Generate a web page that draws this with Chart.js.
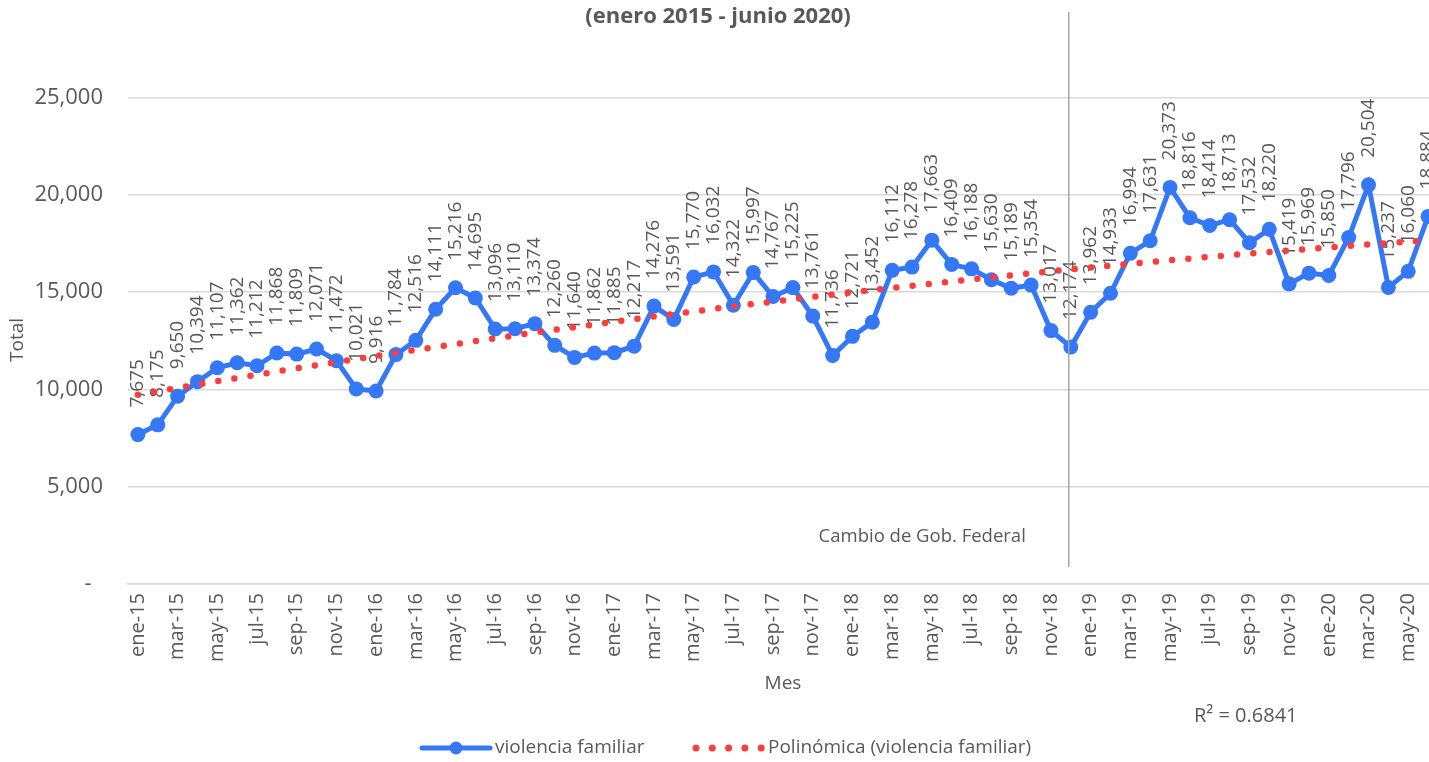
<!DOCTYPE html>
<html>
<head>
<meta charset="utf-8">
<script src="https://cdn.jsdelivr.net/npm/chart.js@4.4.1/dist/chart.umd.min.js"></script>
<style>
  html, body { margin: 0; padding: 0; background: #fff; overflow: hidden; }
  .conten_grafica { width: 1438px; height: 762px; position: relative; }
</style>
</head>
<body>
<div class="conten_grafica">
  <canvas id="line-chart" width="1438" height="762"></canvas>
</div>
<script>
// meses de enero 2015 a junio 2020
const meses = [
  'ene-15','feb-15','mar-15','abr-15','may-15','jun-15','jul-15','ago-15','sep-15','oct-15','nov-15','dic-15',
  'ene-16','feb-16','mar-16','abr-16','may-16','jun-16','jul-16','ago-16','sep-16','oct-16','nov-16','dic-16',
  'ene-17','feb-17','mar-17','abr-17','may-17','jun-17','jul-17','ago-17','sep-17','oct-17','nov-17','dic-17',
  'ene-18','feb-18','mar-18','abr-18','may-18','jun-18','jul-18','ago-18','sep-18','oct-18','nov-18','dic-18',
  'ene-19','feb-19','mar-19','abr-19','may-19','jun-19','jul-19','ago-19','sep-19','oct-19','nov-19','dic-19',
  'ene-20','feb-20','mar-20','abr-20','may-20','jun-20'
]

const violencia = [
  7675, 8175, 9650, 10394, 11107, 11362, 11212, 11868, 11809, 12071, 11472, 10021,
  9916, 11784, 12516, 14111, 15216, 14695, 13096, 13110, 13374, 12260, 11640, 11862,
  11885, 12217, 14276, 13591, 15770, 16032, 14322, 15997, 14767, 15225, 13761, 11736,
  12721, 13452, 16112, 16278, 17663, 16409, 16188, 15630, 15189, 15354, 13017, 12174,
  13962, 14933, 16994, 17631, 20373, 18816, 18414, 18713, 17532, 18220, 15419, 15969,
  15850, 17796, 20504, 15237, 16060, 18884
]

const ticksY = [0, 5000, 10000, 15000, 20000, 25000]
const mesCambio = 'dic-18'
const r2 = '0.6841'

const gris = '#595959'
const azul = '#3478f6'
const rojo = '#ff3b3b'
const fuente = '"Open Sans", "Noto Sans", sans-serif'

// tendencia polinómica de grado 2 (mínimos cuadrados, x = 1..n)
function tendencia(y){
  let s = [0,0,0,0,0], t = [0,0,0]
  y.forEach((v,i) => {
    let x = i + 1
    for (let k = 0; k < 5; k++) s[k] += Math.pow(x,k)
    for (let k = 0; k < 3; k++) t[k] += v * Math.pow(x,k)
  })
  let m = [[s[0],s[1],s[2],t[0]],[s[1],s[2],s[3],t[1]],[s[2],s[3],s[4],t[2]]]
  for (let c = 0; c < 3; c++){
    for (let r = c + 1; r < 3; r++){
      let f = m[r][c] / m[c][c]
      for (let k = c; k < 4; k++) m[r][k] -= f * m[c][k]
    }
  }
  let b = [0,0,0]
  for (let r = 2; r >= 0; r--){
    let acc = m[r][3]
    for (let k = r + 1; k < 3; k++) acc -= m[r][k] * b[k]
    b[r] = acc / m[r][r]
  }
  return y.map((v,i) => b[0] + b[1]*(i+1) + b[2]*(i+1)*(i+1))
}

const fmt = v => v.toLocaleString('en-US')

// etiquetas de valor verticales encima de cada punto
const etiquetas = {
  id: 'etiquetas',
  beforeDatasetsDraw(chart){
    const ctx = chart.ctx
    const meta = chart.getDatasetMeta(1)
    ctx.save()
    ctx.fillStyle = gris
    ctx.font = '19px ' + fuente
    ctx.textAlign = 'left'
    ctx.textBaseline = 'middle'
    meta.data.forEach((pt,i) => {
      ctx.save()
      ctx.translate(pt.x, pt.y - 27)
      ctx.rotate(-Math.PI/2)
      ctx.fillText(fmt(violencia[i]), 0, 0)
      ctx.restore()
    })
    ctx.restore()
  }
}

// titulo, textos de ejes, linea de cambio de gobierno y leyenda
const extras = {
  id: 'extras',
  afterDraw(chart){
    const ctx = chart.ctx
    const x = chart.scales.x
    ctx.save()

    let xl = x.getPixelForValue(meses.indexOf(mesCambio)) - 2
    ctx.strokeStyle = '#a6a6a6'
    ctx.lineWidth = 1.5
    ctx.beginPath()
    ctx.moveTo(xl, 12)
    ctx.lineTo(xl, 567)
    ctx.stroke()

    ctx.fillStyle = gris
    ctx.textBaseline = 'middle'
    ctx.font = 'bold 22px ' + fuente
    ctx.textAlign = 'center'
    ctx.fillText('(enero 2015 - junio 2020)', 718, 17)

    ctx.font = '19px ' + fuente
    ctx.fillText('Mes', 783, 684)
    ctx.textAlign = 'right'
    ctx.font = '18.5px ' + fuente
    ctx.fillText('Cambio de Gob. Federal', xl - 43, 537)
    ctx.textAlign = 'left'
    ctx.font = '20px ' + fuente
    ctx.fillText('R² = ' + r2, 1194, 716)

    ctx.font = '19px ' + fuente
    ctx.save()
    ctx.translate(18, 340)
    ctx.rotate(-Math.PI/2)
    ctx.textAlign = 'center'
    ctx.fillText('Total', 0, 0)
    ctx.restore()

    // leyenda
    let ly = 748
    ctx.strokeStyle = azul
    ctx.lineWidth = 5
    ctx.lineCap = 'round'
    ctx.beginPath()
    ctx.moveTo(422, ly)
    ctx.lineTo(490, ly)
    ctx.stroke()
    ctx.fillStyle = azul
    ctx.beginPath()
    ctx.arc(456, ly, 6.5, 0, Math.PI*2)
    ctx.fill()
    ctx.fillStyle = rojo
    for (let k = 0; k < 5; k++){
      ctx.beginPath()
      ctx.arc(696 + k*16.3, ly, 3.5, 0, Math.PI*2)
      ctx.fill()
    }
    ctx.fillStyle = gris
    ctx.textAlign = 'left'
    ctx.fillText('violencia familiar', 495, ly)
    ctx.fillText('Polinómica (violencia familiar)', 768, ly)

    ctx.restore()
  }
}

new Chart(document.getElementById('line-chart'), {
  type: 'line',
  data: {
    labels: meses,
    datasets: [
      {
        label: 'Polinómica (violencia familiar)',
        data: tendencia(violencia),
        borderColor: rojo,
        borderWidth: 6.5,
        borderDash: [0, 16.3],
        borderCapStyle: 'round',
        pointRadius: 0,
        fill: false,
        order: 0
      },
      {
        label: 'violencia familiar',
        data: violencia,
        borderColor: azul,
        backgroundColor: azul,
        borderWidth: 5,
        pointRadius: 7.5,
        pointBackgroundColor: azul,
        pointBorderWidth: 0,
        fill: false,
        order: 1
      }
    ]
  },
  plugins: [etiquetas, extras],
  options: {
    responsive: false,
    animation: false,
    layout: { padding: 0, autoPadding: false },
    plugins: {
      legend: { display: false },
      title: { display: false },
      tooltip: { enabled: false }
    },
    scales: {
      x: {
        offset: true,
        grid: { display: false, drawTicks: false },
        border: { color: '#d9d9d9', width: 1.5 },
        afterFit: s => {
          s.height = 178
          s.paddingLeft = 0
          s.paddingRight = 0
        },
        ticks: {
          autoSkip: false,
          minRotation: 90,
          maxRotation: 90,
          padding: 9,
          color: gris,
          font: { family: fuente, size: 20 },
          callback: (v,i) => i % 2 === 0 ? meses[i] : ''
        }
      },
      y: {
        min: 0,
        max: 30000,
        afterBuildTicks: s => { s.ticks = ticksY.map(v => ({ value: v })) },
        afterFit: s => {
          s.width = 128
          s.paddingTop = 0
          s.paddingBottom = 0
        },
        grid: { color: '#d9d9d9', lineWidth: 1.5, drawTicks: false },
        border: { display: false },
        ticks: {
          padding: 25,
          color: gris,
          font: { family: fuente, size: 22 },
          callback: v => v === 0 ? '-  ' : fmt(v)
        }
      }
    }
  }
})
</script>
</body>
</html>
